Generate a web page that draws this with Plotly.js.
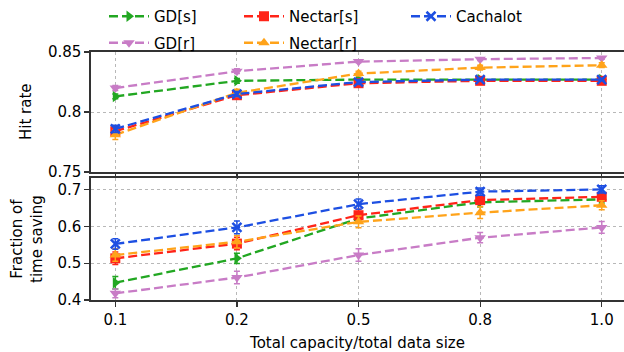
<!DOCTYPE html>
<html>
<head>
<meta charset="utf-8">
<script src="https://cdn.plot.ly/plotly-3.0.1.min.js"></script>
<style>html,body{margin:0;padding:0;background:#fff;}#chart{width:624px;height:352px;}</style>
</head>
<body>
<div id="chart"></div>
<script>
const categories = ['0.1', '0.2', '0.5', '0.8', '1.0'];
const seriesNames = ['GD[s]', 'GD[r]', 'Nectar[s]', 'Nectar[r]', 'Cachalot'];

const hitGDs      = [0.813, 0.826, 0.827, 0.827, 0.827];
const hitGDr      = [0.820, 0.834, 0.842, 0.844, 0.845];
const hitNectarS  = [0.784, 0.814, 0.824, 0.826, 0.826];
const hitNectarR  = [0.781, 0.816, 0.832, 0.837, 0.839];
const hitCachalot = [0.786, 0.815, 0.825, 0.827, 0.827];

const hitErrGDs      = [0.002, 0.002, 0.001, 0.001, 0.001];
const hitErrGDr      = [0.002, 0.002, 0.001, 0.001, 0.001];
const hitErrNectarS  = [0.004, 0.003, 0.002, 0.002, 0.002];
const hitErrNectarR  = [0.004, 0.003, 0.002, 0.002, 0.002];
const hitErrCachalot = [0.003, 0.002, 0.002, 0.001, 0.001];

const saveGDs      = [0.447, 0.513, 0.621, 0.665, 0.673];
const saveGDr      = [0.418, 0.461, 0.522, 0.569, 0.597];
const saveNectarS  = [0.513, 0.553, 0.630, 0.671, 0.680];
const saveNectarR  = [0.522, 0.558, 0.612, 0.637, 0.657];
const saveCachalot = [0.552, 0.597, 0.660, 0.694, 0.700];

const saveErrGDs      = [0.017, 0.014, 0.012, 0.012, 0.010];
const saveErrGDr      = [0.012, 0.017, 0.017, 0.014, 0.016];
const saveErrNectarS  = [0.017, 0.017, 0.016, 0.012, 0.012];
const saveErrNectarR  = [0.017, 0.017, 0.016, 0.016, 0.012];
const saveErrCachalot = [0.014, 0.017, 0.014, 0.010, 0.010];

const hitTicks = [0.75, 0.8, 0.85];
const hitTickText = ['0.75', '0.8', '0.85'];
const saveTicks = [0.4, 0.5, 0.6, 0.7];
const saveTickText = ['0.4', '0.5', '0.6', '0.7'];

const yTitleTop = 'Hit rate';
const yTitleBottom = 'Fraction of<br>time saving';
const xTitle = 'Total capacity/total data size';

const styles = [
  {color: '#22a722', symbol: 'triangle-right', legend: 'legend',  group: 'a'},
  {color: '#c87cc6', symbol: 'triangle-down',  legend: 'legend',  group: 'b'},
  {color: '#ff2418', symbol: 'square',         legend: 'legend2', group: 'c'},
  {color: '#ffa31a', symbol: 'triangle-up',    legend: 'legend2', group: 'd'},
  {color: '#1d4fe2', symbol: 'x-thin',         legend: 'legend3', group: 'e'}
];
const hitSeries = [hitGDs, hitGDr, hitNectarS, hitNectarR, hitCachalot];
const hitErrs = [hitErrGDs, hitErrGDr, hitErrNectarS, hitErrNectarR, hitErrCachalot];
const saveSeries = [saveGDs, saveGDr, saveNectarS, saveNectarR, saveCachalot];
const saveErrs = [saveErrGDs, saveErrGDr, saveErrNectarS, saveErrNectarR, saveErrCachalot];

function mk(i, ys, errs, xa, ya, show) {
  const s = styles[i];
  const isX = s.symbol === 'x-thin';
  return {
    type: 'scatter', mode: 'lines+markers',
    x: categories, y: ys, xaxis: xa, yaxis: ya,
    name: seriesNames[i], showlegend: show, legend: s.legend, legendgroup: s.group,
    line: {color: s.color, width: 2.3, dash: '9px,4px'},
    marker: {symbol: s.symbol, size: isX ? 9 : 10, color: s.color,
             line: {width: isX ? 2.5 : 0, color: s.color}},
    error_y: {type: 'data', array: errs, visible: true, color: s.color, thickness: 1.5, width: 3}
  };
}
const traces = [];
for (let i = 0; i < 5; i++) traces.push(mk(i, hitSeries[i], hitErrs[i], 'x', 'y', true));
for (let i = 0; i < 5; i++) traces.push(mk(i, saveSeries[i], saveErrs[i], 'x2', 'y2', false));

const font = {family: 'DejaVu Sans, sans-serif', size: 15, color: '#000'};
const axisLine = {showline: true, linecolor: '#333', linewidth: 1.6};
const grid = {showgrid: true, gridcolor: '#b8b8b8', gridwidth: 1, griddash: '3px,3px'};
const xr = [-0.2, 4.183];
const legCommon = {orientation: 'v', xref: 'container', yref: 'container', xanchor: 'left', yanchor: 'top',
  bgcolor: 'rgba(0,0,0,0)', borderwidth: 0, font: font, tracegroupgap: 4, traceorder: 'grouped',
  itemwidth: 40, y: 1.007};

const plotW = 533;
const layout = {
  width: 624, height: 352,
  margin: {l: 91, r: 0, t: 52, b: 52, autoexpand: false},
  paper_bgcolor: '#fff', plot_bgcolor: '#fff',
  font: font,
  xaxis: Object.assign({type: 'category', range: xr, domain: [0, 1], anchor: 'y', mirror: true,
    ticks: 'outside', ticklen: 5, tickwidth: 1.2, tickcolor: '#333', showticklabels: false, zeroline: false}, axisLine, grid),
  yaxis: Object.assign({domain: [0.516, 1], range: [0.75, 0.85], anchor: 'x', tickvals: hitTicks, ticktext: hitTickText,
    ticks: 'outside', ticklen: 5, tickwidth: 1.2, tickcolor: '#333', zeroline: false}, axisLine, grid),
  xaxis2: Object.assign({type: 'category', range: xr, domain: [0, 1], anchor: 'y2', mirror: true,
    tickangle: 0,
    ticks: 'outside', ticklen: 5, tickwidth: 1.2, tickcolor: '#333', zeroline: false,
    title: {text: xTitle, font: font}}, axisLine, grid),
  yaxis2: Object.assign({domain: [0, 0.492], range: [0.4, 0.731], anchor: 'x2', tickvals: saveTicks, ticktext: saveTickText,
    ticks: 'outside', ticklen: 5, tickwidth: 1.2, tickcolor: '#333', zeroline: false}, axisLine, grid),
  annotations: [
    {text: yTitleTop, xref: 'paper', yref: 'paper', x: (26 - 91) / plotW, y: 0.758, textangle: -90,
     showarrow: false, xanchor: 'center', yanchor: 'middle', font: font},
    {text: yTitleBottom, xref: 'paper', yref: 'paper', x: (27 - 91) / plotW, y: 0.246, textangle: -90,
     showarrow: false, xanchor: 'center', yanchor: 'middle', font: font}
  ],
  legend: Object.assign({}, legCommon, {x: 104 / 624}),
  legend2: Object.assign({}, legCommon, {x: 239 / 624}),
  legend3: Object.assign({}, legCommon, {x: 406 / 624}),
  showlegend: true
};

Plotly.newPlot('chart', traces, layout, {staticPlot: true, displayModeBar: false});
</script>
</body>
</html>
